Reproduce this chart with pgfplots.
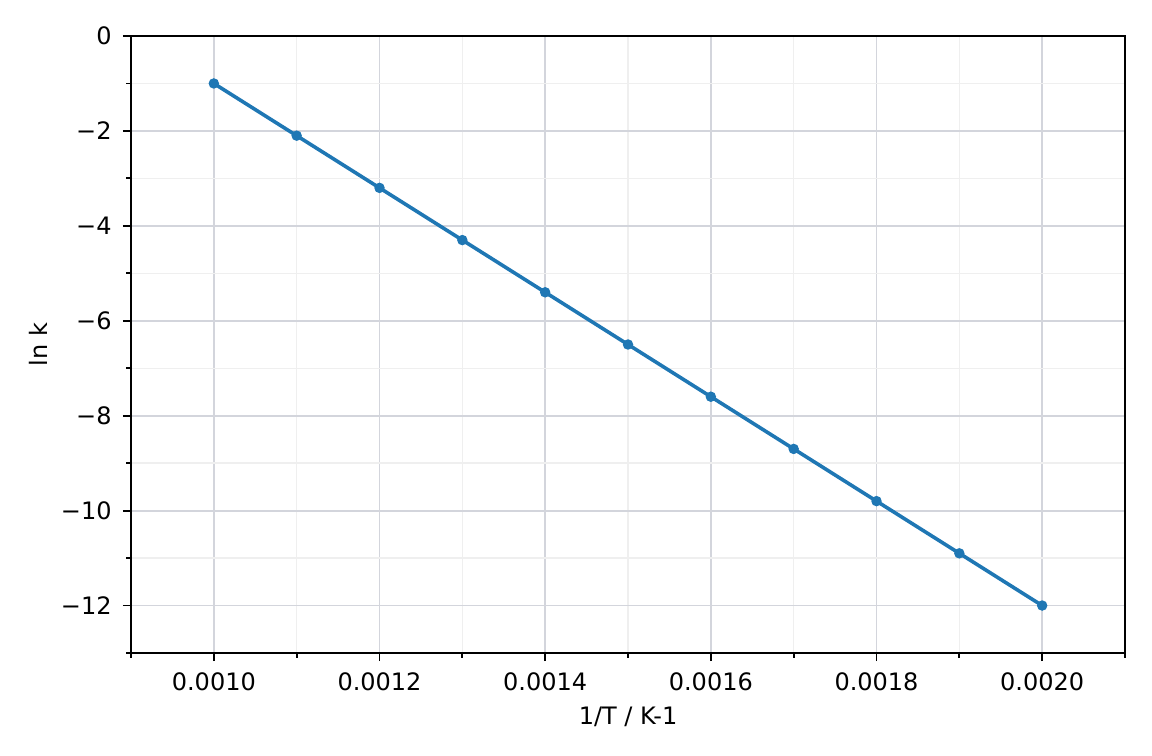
\documentclass[border=0pt]{standalone}
\usepackage{fontspec}
\setmainfont{DejaVu Sans}
\usepackage{pgfplots}
\pgfplotsset{compat=1.18}

\definecolor{mplblue}{HTML}{1F77B4}
\definecolor{majgrid}{HTML}{D3D5DC}
\definecolor{mingrid}{HTML}{EFEFEF}

\begin{document}
\fontsize{12bp}{14bp}\selectfont
\begin{tikzpicture}
\begin{axis}[
  scale only axis,
  width=497bp, height=308.5bp,
  xmin=0.0009, xmax=0.0021,
  ymin=-13, ymax=0,
  xtick={0.0010,0.0012,0.0014,0.0016,0.0018,0.0020},
  xticklabels={0.0010,0.0012,0.0014,0.0016,0.0018,0.0020},
  minor xtick={0.0009,0.0011,0.0013,0.0015,0.0017,0.0019,0.0021},
  ytick={-12,-10,-8,-6,-4,-2,0},
  yticklabels={−12,−10,−8,−6,−4,−2,0},
  minor ytick={-13,-11,-9,-7,-5,-3,-1},
  scaled x ticks=false,
  tick align=outside,
  major tick length=4bp,
  minor tick length=2.4bp,
  every tick/.style={black, line width=0.9bp},
  xtick pos=bottom, ytick pos=left,
  grid=both,
  major grid style={majgrid, line width=0.9bp},
  minor grid style={mingrid, line width=0.7bp},
  axis line style={black, line width=0.9bp},
  tick label style={font=\fontsize{12bp}{14bp}\selectfont, inner sep=0pt},
  xticklabel style={yshift=-5.5bp},
  yticklabel style={xshift=-5.5bp},
  xlabel={1/T / K-1},
  ylabel={ln k},
  label style={font=\fontsize{12bp}{14bp}\selectfont},
  xlabel style={at={(axis description cs:0.5,-0.1037)}, anchor=center},
  ylabel style={at={(axis description cs:-0.0936,0.5)}, anchor=center},
  clip=false,
]
\addplot[mplblue, line width=1.8bp, mark=*, mark size=2.3bp,
  mark options={solid, fill=mplblue, draw=mplblue, line width=0.6bp}]
  coordinates {
  (0.0010,-1.0) (0.0011,-2.1) (0.0012,-3.2) (0.0013,-4.3) (0.0014,-5.4)
  (0.0015,-6.5) (0.0016,-7.6) (0.0017,-8.7) (0.0018,-9.8) (0.0019,-10.9)
  (0.0020,-12.0)
  };
\end{axis}
\path[use as bounding box] (-65.5bp,-51.5bp) rectangle (510.5bp,326.5bp);
\end{tikzpicture}
\end{document}
